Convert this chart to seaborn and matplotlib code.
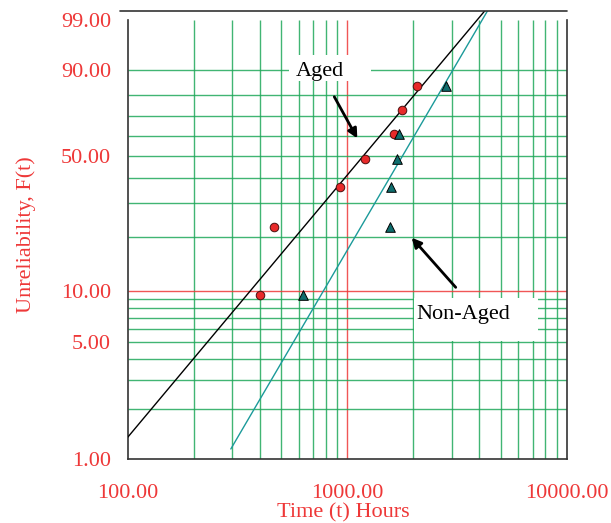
import numpy as np
import matplotlib
matplotlib.use("Agg")
import matplotlib.pyplot as plt
from matplotlib.patches import Rectangle
from matplotlib.ticker import FixedLocator, NullLocator
import seaborn as sns

# failure times (hours) and unreliability (%)
aged_t = [402, 464, 930, 1209, 1639, 1782, 2073]
aged_F = [9.46, 22.7, 35.9, 48.6, 60.9, 72.9, 84.0]
nonaged_t = [627, 1567, 1584, 1681, 1728, 2810]
nonaged_F = [9.46, 22.7, 35.9, 48.6, 60.9, 84.0]

# fitted lines (end points, straight on Weibull paper)
aged_line_t = [100, 4245]
aged_line_F = [1.357, 99.47]
nonaged_line_t = [295, 4365]
nonaged_line_F = [1.154, 99.47]

x_ticks = [100, 1000, 10000]
x_labels = ["100.00", "1000.00", "10000.00"]
y_ticks = [1, 5, 10, 50, 90, 99]
y_labels = ["1.00", "5.00", "10.00", "50.00", "90.00", "99.00"]
x_grid = [200, 300, 400, 500, 600, 700, 800, 900,
          2000, 3000, 4000, 5000, 6000, 7000, 8000, 9000]
y_grid = [2, 3, 4, 5, 6, 7, 8, 9, 20, 30, 40, 50, 60, 70, 80, 90]

RED = "#ee3838"
GREEN = "#1fa85a"
TEAL = "#1b9a9a"


def weib_fwd(p):
    p = np.clip(np.asarray(p, dtype=float), 1e-6, 100 - 1e-9)
    return np.log(-np.log(1 - p / 100.0))


def weib_inv(u):
    return 100.0 * (1 - np.exp(-np.exp(np.asarray(u, dtype=float))))


sns.set_style("white")
plt.rcParams["font.family"] = ["Liberation Serif", "DejaVu Serif"]
plt.rcParams["font.size"] = 16

fig = plt.figure(figsize=(6.11, 5.23), dpi=100)
ax = fig.add_axes([0.209, 0.1218, 0.7185, 0.858])
ax.set_xscale("log")
ax.set_yscale("function", functions=(weib_fwd, weib_inv))
ax.set_xlim(100, 10000)
ax.set_ylim(1, 99.47)

# probability paper grid
ax.vlines(x_grid, 1, 99, color=GREEN, lw=1, alpha=0.85, zorder=1)
ax.vlines([1000], 1, 99, color=RED, lw=1, alpha=0.85, zorder=1)
ax.hlines(y_grid, 100, 10000, color=GREEN, lw=1, alpha=0.85, zorder=1)
ax.hlines([10], 100, 10000, color=RED, lw=1, alpha=0.85, zorder=1)

# label boxes cover the grid
ax.add_patch(Rectangle((0.3674, 0.8429), 0.1868, 0.0579, transform=ax.transAxes,
                       facecolor="white", edgecolor="none", zorder=2))
ax.add_patch(Rectangle((0.652, 0.2643), 0.2833, 0.0944, transform=ax.transAxes,
                       facecolor="white", edgecolor="none", zorder=2))

sns.lineplot(x=aged_line_t, y=aged_line_F, color="black", lw=1, sort=False, ax=ax, zorder=3)
sns.lineplot(x=nonaged_line_t, y=nonaged_line_F, color=TEAL, lw=1, sort=False, ax=ax, zorder=3)
sns.scatterplot(x=aged_t, y=aged_F, marker="o", s=38, color="#e82a2a",
                edgecolor="#4a1010", linewidth=0.7, ax=ax, zorder=4)
sns.scatterplot(x=nonaged_t, y=nonaged_F, marker="^", s=48, color="#0f6e6e",
                edgecolor="black", linewidth=0.7, ax=ax, zorder=4)

ax.text(0.3834, 0.8547, "Aged", transform=ax.transAxes, ha="left", va="baseline",
        fontsize=16, color="black", zorder=5)
ax.text(0.6567, 0.3119, "Non-Aged", transform=ax.transAxes, ha="left", va="baseline",
        fontsize=16, color="black", zorder=5)
arrow = dict(arrowstyle="-|>", color="black", lw=2, mutation_scale=14, shrinkA=0, shrinkB=0)
ax.annotate("", xy=(0.523, 0.7152), xytext=(0.4706, 0.8079),
            xycoords="axes fraction", arrowprops=arrow, zorder=5)
ax.annotate("", xy=(0.6469, 0.4938), xytext=(0.7472, 0.3832),
            xycoords="axes fraction", arrowprops=arrow, zorder=5)

# spines
for s in ["left", "right"]:
    ax.spines[s].set_bounds(1, 99)
    ax.spines[s].set_color("#333333")
    ax.spines[s].set_linewidth(1.2)
ax.spines["bottom"].set_color("#333333")
ax.spines["bottom"].set_linewidth(1.2)
ax.spines["top"].set_visible(False)
ax.plot([-0.0175, 1.0], [1.0, 1.0], transform=ax.transAxes, color="#333333",
        lw=1.2, clip_on=False, zorder=5)

# ticks
ax.xaxis.set_major_locator(FixedLocator(x_ticks))
ax.set_xticklabels(x_labels)
ax.xaxis.set_minor_locator(FixedLocator([500, 5000]))
ax.xaxis.set_minor_formatter(plt.NullFormatter())
ax.yaxis.set_major_locator(FixedLocator(y_ticks))
ax.set_yticklabels(y_labels)
ax.yaxis.set_minor_locator(NullLocator())
ax.tick_params(axis="x", which="major", direction="out", length=5, width=1.2,
               pad=13, labelcolor=RED, colors="#333333", labelsize=16)
ax.tick_params(axis="x", which="minor", direction="out", length=2.5, width=1,
               color=GREEN)
ax.tick_params(axis="y", which="major", direction="out", length=5, width=1,
               pad=7, labelcolor=RED, colors="#333333", labelsize=16)
for lab in ax.get_xticklabels() + ax.get_yticklabels():
    lab.set_color(RED)

xt = ax.xaxis.get_major_ticks()
xt[1].tick1line.set_color(RED)
yt = ax.yaxis.get_major_ticks()
for i, c in enumerate(["#333333", GREEN, RED, GREEN, GREEN, "white"]):
    yt[i].tick1line.set_color(c)
    if c == GREEN:
        yt[i].tick1line.set_markersize(3.6)
    if c == "white":
        yt[i].tick1line.set_visible(False)

ax.set_xlabel("Time (t) Hours", color=RED, fontsize=16)
ax.set_ylabel("Unreliability, F(t)", color=RED, fontsize=16)
ax.xaxis.set_label_coords(0.491, -0.119)
ax.xaxis.label.set_verticalalignment("center")
ax.yaxis.set_label_coords(-0.231, 0.5)
ax.yaxis.label.set_verticalalignment("center")

fig.savefig("out.png", dpi=100)
